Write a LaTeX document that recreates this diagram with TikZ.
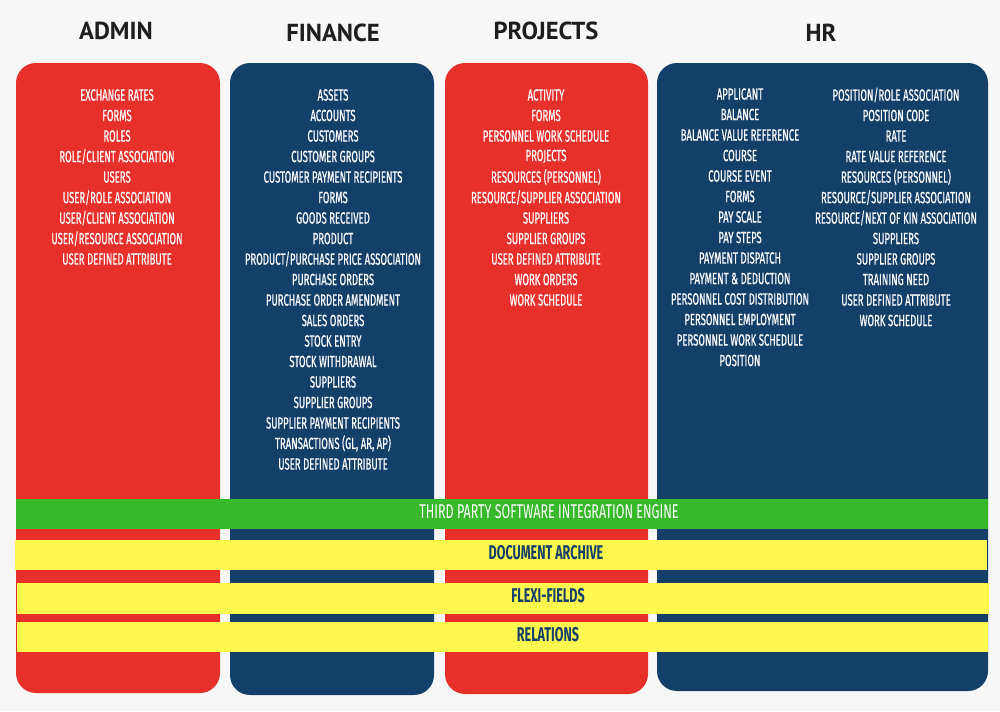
\documentclass[tikz,border=0pt]{standalone}
\usepackage{fontspec}
\newfontfamily\itemfont{Fira Sans}[FakeStretch=0.59, FakeBold=0.6]
\newfontfamily\bandfont{Fira Sans}[FakeStretch=0.63]
\newfontfamily\titlefont{PT Sans}
\usepackage{tikz}
\definecolor{fond}{HTML}{F7F7F7}
\definecolor{rouge}{HTML}{E8302B}
\definecolor{marine}{HTML}{143F69}
\definecolor{vert}{HTML}{38B82B}
\definecolor{jaune}{HTML}{FFF84F}
\definecolor{gristitre}{HTML}{1E1E1E}

\begin{document}
\begin{tikzpicture}[x=0.3mm,y=-0.3mm,
    colonne/.style={rounded corners=6mm},
    titre/.style={font=\titlefont\bfseries\fontsize{21}{24}\selectfont, text=gristitre},
    item/.style={font=\itemfont\fontsize{13.8}{15}\selectfont, text=white, inner sep=0pt},
    bande/.style={font=\bandfont\fontsize{17}{19}\selectfont, inner sep=0pt},
    bandegras/.style={bande, text=marine, font=\bandfont\bfseries\fontsize{17}{19}\selectfont}]
    % Fond
    \fill[fond] (0,0) rectangle (1000,711);

    % Titres des colonnes
    \node[titre] (t-admin) at (116,31) {ADMIN};
    \node[titre] (t-finance) at (333,33) {FINANCE};
    \node[titre] (t-projects) at (546,31) {PROJECTS};
    \node[titre] (t-hr) at (821,33) {HR};

    % Colonnes
    \fill[rouge, colonne] (16,63) rectangle (220,693);
    \fill[marine, colonne] (230,63) rectangle (434,695);
    \fill[rouge, colonne] (445,63) rectangle (648,694);
    \fill[marine, colonne] (657,63) rectangle (988,691);

    % Listes
    \foreach \mot [count=\i from 0] in {EXCHANGE RATES, FORMS, ROLES,
        ROLE/CLIENT ASSOCIATION, USERS, USER/ROLE ASSOCIATION,
        USER/CLIENT ASSOCIATION, USER/RESOURCE ASSOCIATION,
        USER DEFINED ATTRIBUTE}
        \node[item] (admin-\i) at (117,95+20.5*\i) {\mot};

    \foreach \mot [count=\i from 0] in {ASSETS, ACCOUNTS, CUSTOMERS,
        CUSTOMER GROUPS, CUSTOMER PAYMENT RECIPIENTS, FORMS, GOODS RECEIVED,
        PRODUCT, PRODUCT/PURCHASE PRICE ASSOCIATION, PURCHASE ORDERS,
        PURCHASE ORDER AMENDMENT, SALES ORDERS, STOCK ENTRY, STOCK WITHDRAWAL,
        SUPPLIERS, SUPPLIER GROUPS, SUPPLIER PAYMENT RECIPIENTS,
        {TRANSACTIONS (GL, AR, AP)}, USER DEFINED ATTRIBUTE}
        \node[item] (finance-\i) at (333,95+20.5*\i) {\mot};

    \foreach \mot [count=\i from 0] in {ACTIVITY, FORMS,
        PERSONNEL WORK SCHEDULE, PROJECTS, RESOURCES (PERSONNEL),
        RESOURCE/SUPPLIER ASSOCIATION, SUPPLIERS, SUPPLIER GROUPS,
        USER DEFINED ATTRIBUTE, WORK ORDERS, WORK SCHEDULE}
        \node[item] (projects-\i) at (546,95+20.5*\i) {\mot};

    \foreach \mot [count=\i from 0] in {APPLICANT, BALANCE,
        BALANCE VALUE REFERENCE, COURSE, COURSE EVENT, FORMS, PAY SCALE,
        PAY STEPS, PAYMENT DISPATCH, PAYMENT \& DEDUCTION,
        PERSONNEL COST DISTRIBUTION, PERSONNEL EMPLOYMENT,
        PERSONNEL WORK SCHEDULE, POSITION}
        \node[item] (hr-a-\i) at (740,94+20.5*\i) {\mot};

    \foreach \mot [count=\i from 0] in {POSITION/ROLE ASSOCIATION,
        POSITION CODE, RATE, RATE VALUE REFERENCE, RESOURCES (PERSONNEL),
        RESOURCE/SUPPLIER ASSOCIATION, RESOURCE/NEXT OF KIN ASSOCIATION,
        SUPPLIERS, SUPPLIER GROUPS, TRAINING NEED, USER DEFINED ATTRIBUTE,
        WORK SCHEDULE}
        \node[item] (hr-b-\i) at (896,95+20.5*\i) {\mot};

    % Bandes transversales
    \fill[vert] (16,499) rectangle (988,529);
    \node[bande, text=white] (moteur) at (549,512) {THIRD PARTY SOFTWARE INTEGRATION ENGINE};
    \fill[jaune] (15,540) rectangle (987,570);
    \node[bandegras] (archive) at (546,553) {DOCUMENT ARCHIVE};
    \fill[jaune] (17,583) rectangle (989,614);
    \node[bandegras] (flexi) at (548,596) {FLEXI-FIELDS};
    \fill[jaune] (17,622) rectangle (988,652);
    \node[bandegras] (relations) at (548,635) {RELATIONS};
\end{tikzpicture}
\end{document}
